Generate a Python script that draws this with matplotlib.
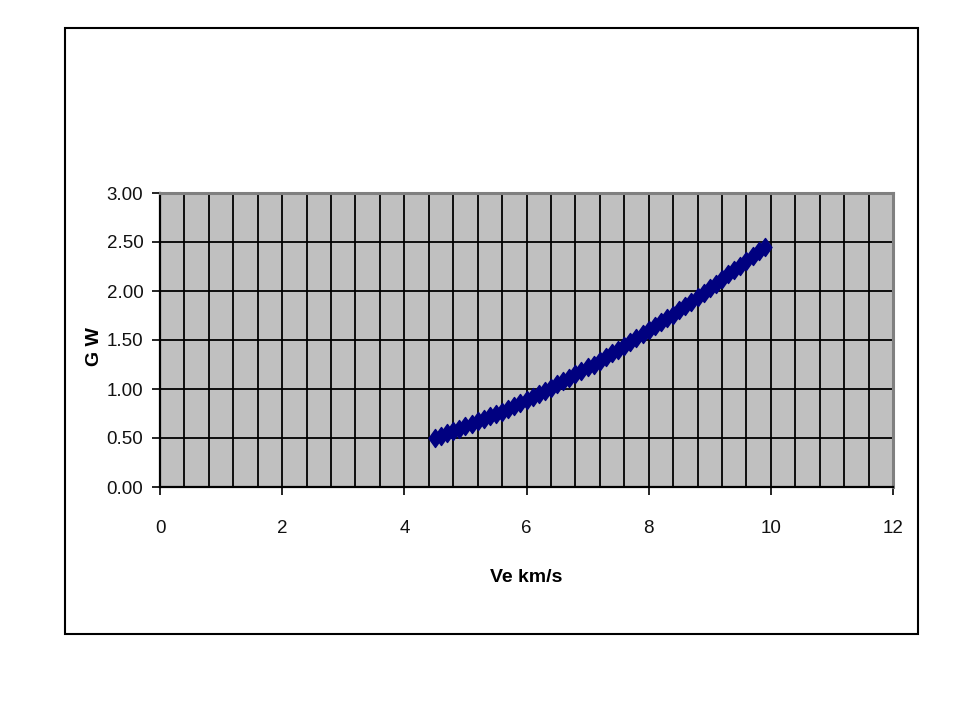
import matplotlib
matplotlib.use("Agg")
import matplotlib.pyplot as plt
from matplotlib.ticker import MultipleLocator, FormatStrFormatter
from matplotlib.patches import Rectangle
from matplotlib.path import Path

ve_kms = [4.5, 4.6, 4.7, 4.8, 4.9, 5.0, 5.1, 5.2, 5.3, 5.4,
          5.5, 5.6, 5.7, 5.8, 5.9, 6.0, 6.1, 6.2, 6.3, 6.4,
          6.5, 6.6, 6.7, 6.8, 6.9, 7.0, 7.1, 7.2, 7.3, 7.4,
          7.5, 7.6, 7.7, 7.8, 7.9, 8.0, 8.1, 8.2, 8.3, 8.4,
          8.5, 8.6, 8.7, 8.8, 8.9, 9.0, 9.1, 9.2, 9.3, 9.4,
          9.5, 9.6, 9.7, 9.8, 9.9]
power_gw = [0.50, 0.52, 0.55, 0.57, 0.59, 0.62, 0.64, 0.67, 0.69, 0.72,
            0.75, 0.77, 0.80, 0.83, 0.86, 0.89, 0.92, 0.95, 0.98, 1.01,
            1.05, 1.08, 1.11, 1.15, 1.18, 1.22, 1.25, 1.29, 1.33, 1.37,
            1.40, 1.44, 1.48, 1.52, 1.56, 1.60, 1.64, 1.68, 1.72, 1.76,
            1.81, 1.85, 1.89, 1.94, 1.98, 2.03, 2.07, 2.12, 2.17, 2.21,
            2.26, 2.31, 2.36, 2.41, 2.45]

x_label = "Ve km/s"
y_label = "G W"

font = ["Liberation Sans", "DejaVu Sans"]

fig = plt.figure(figsize=(9.6, 7.2), dpi=100)
fig.patch.set_facecolor("white")

# outer chart border
fig.patches.append(Rectangle((65 / 960, 1 - 634 / 720), (918 - 65) / 960, (634 - 28) / 720,
                             transform=fig.transFigure, fill=False,
                             edgecolor="black", linewidth=1.5, zorder=0))

ax = fig.add_axes([160 / 960, 1 - 487 / 720, (893 - 160) / 960, (487 - 193) / 720])
ax.set_facecolor("#C0C0C0")

diamond = Path([(0, 1), (0.72, 0), (0, -1), (-0.72, 0), (0, 1)],
               [Path.MOVETO, Path.LINETO, Path.LINETO, Path.LINETO, Path.CLOSEPOLY])
ax.plot(ve_kms, power_gw, color="#000080", linewidth=2, marker=diamond,
        markersize=13, markerfacecolor="#000080", markeredgecolor="#000080",
        zorder=3)

ax.set_xlim(0, 12)
ax.set_ylim(0, 3)
ax.xaxis.set_major_locator(MultipleLocator(2))
ax.xaxis.set_minor_locator(MultipleLocator(0.4))
ax.yaxis.set_major_locator(MultipleLocator(0.5))
ax.yaxis.set_major_formatter(FormatStrFormatter("%.2f"))

ax.grid(True, which="both", axis="x", color="black", linewidth=1.3)
ax.grid(True, which="major", axis="y", color="black", linewidth=1.3)
ax.set_axisbelow(True)

ax.tick_params(axis="x", which="minor", length=0)
ax.tick_params(axis="x", which="major", direction="out", length=6, width=1.2,
               pad=18, labelsize=13.5)
ax.tick_params(axis="y", which="major", direction="out", length=6, width=1.2,
               pad=6, labelsize=13.5)
for lab in ax.get_xticklabels() + ax.get_yticklabels():
    lab.set_family(font)
    lab.set_color("#111111")

for side in ("left", "bottom"):
    ax.spines[side].set_color("black")
    ax.spines[side].set_linewidth(1.6)
for side in ("top", "right"):
    ax.spines[side].set_color("#808080")
    ax.spines[side].set_linewidth(2.2)

ax.set_xlabel(x_label, family=font, fontweight="bold", fontsize=14, labelpad=23)
ax.set_ylabel(y_label, family=font, fontweight="bold", fontsize=14)
ax.yaxis.set_label_coords(-0.078, 0.476)

fig.savefig("out.png", dpi=100)
